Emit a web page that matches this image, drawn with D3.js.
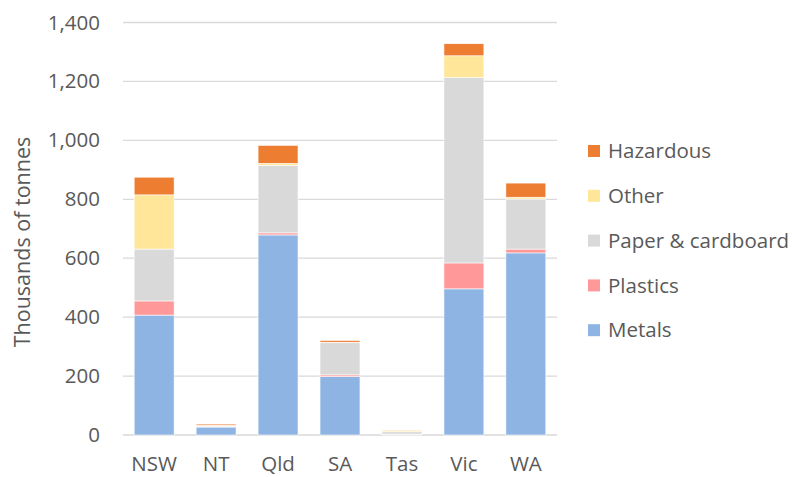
<!DOCTYPE html>
<html>
<head>
<meta charset="utf-8">
<script src="https://cdn.jsdelivr.net/npm/d3@7"></script>
<style>
  body { margin: 0; background: #fff; }
  text { font-family: "Open Sans", sans-serif; fill: #595959; }
</style>
</head>
<body>
<div id="canvas"></div>
<script>
const states = ['NSW', 'NT', 'Qld', 'SA', 'Tas', 'Vic', 'WA']
const metals = [407, 27, 679, 198, 2, 496, 618]
const plastics = [48, 2, 7, 6, 1, 88, 13]
const paper = [176, 3, 229, 109, 8, 629, 170]
const other = [184, 1, 7, 2, 5, 74, 6]
const hazardous = [60, 4, 61, 6, 1, 41, 48]
const seriesNames = ['Metals', 'Plastics', 'Paper & cardboard', 'Other', 'Hazardous']
const yTicks = [0, 200, 400, 600, 800, 1000, 1200, 1400]

const colors = ['#8eb4e3', '#ff9999', '#d9d9d9', '#ffe699', '#ed7d31']

const width = 792
const height = 477
const margin = { top: 22.5, left: 123, bottom: 42, right: 235 }
const iwidth = width - margin.left - margin.right
const iheight = height - margin.top - margin.bottom

const table = states.map((s, i) => ({
  state: s,
  Metals: metals[i],
  Plastics: plastics[i],
  'Paper & cardboard': paper[i],
  Other: other[i],
  Hazardous: hazardous[i],
}))

const stacked = d3.stack().keys(seriesNames)(table)

const svg = d3.select('#canvas').append('svg')
  .attr('width', width)
  .attr('height', height)

const g = svg.append('g')
  .attr('transform', `translate(${margin.left},${margin.top})`)

const x = d3.scaleBand().domain(states).range([0, iwidth]).paddingInner(0.355).paddingOuter(0.18)
const y = d3.scaleLinear().domain([0, 1400]).range([iheight, 0])

// gridlines
g.append('g')
  .selectAll('line')
  .data(yTicks)
  .enter()
  .append('line')
  .attr('x1', 0)
  .attr('x2', iwidth)
  .attr('y1', (d) => y(d))
  .attr('y2', (d) => y(d))
  .style('stroke', '#d9d9d9')
  .style('stroke-width', 1.3)

// bars
g.append('g')
  .selectAll('g')
  .data(stacked)
  .enter()
  .append('g')
  .style('fill', (d, i) => colors[i])
  .selectAll('rect')
  .data((d) => d)
  .enter()
  .append('rect')
  .attr('x', (d) => x(d.data.state))
  .attr('width', x.bandwidth())
  .attr('y', (d) => y(d[1]))
  .attr('height', (d) => y(d[0]) - y(d[1]))
  .style('stroke', '#fff')
  .style('stroke-width', 0.6)

// y axis
const yAxis = g.append('g')
  .call(d3.axisLeft(y).tickValues(yTicks).tickSize(0).tickPadding(23).tickFormat(d3.format(',')))
yAxis.select('.domain').remove()
yAxis.selectAll('text').style('font-size', '20.5px').style('fill', '#595959')

// x axis
const xAxis = g.append('g')
  .attr('transform', `translate(0,${iheight})`)
  .call(d3.axisBottom(x).tickSize(0).tickPadding(21))
xAxis.select('.domain').remove()
xAxis.selectAll('text').style('font-size', '20.5px').style('fill', '#595959')

// y label
svg.append('text')
  .attr('text-anchor', 'middle')
  .attr('transform', 'rotate(-90)')
  .attr('x', -242)
  .attr('y', 30)
  .style('font-size', '21.5px')
  .text('Thousands of tonnes')

// legend
const legendOrder = seriesNames.slice().reverse()
const legend = svg.append('g').attr('transform', 'translate(588,151)')
legendOrder.forEach((name, i) => {
  const idx = seriesNames.indexOf(name)
  legend.append('rect')
    .attr('x', 0)
    .attr('y', i * 44.8 - 6)
    .attr('width', 12)
    .attr('height', 12)
    .style('fill', colors[idx])
  legend.append('text')
    .attr('x', 20)
    .attr('y', i * 44.8)
    .attr('dy', '0.35em')
    .style('font-size', '20.5px')
    .text(name)
})
</script>
</body>
</html>
